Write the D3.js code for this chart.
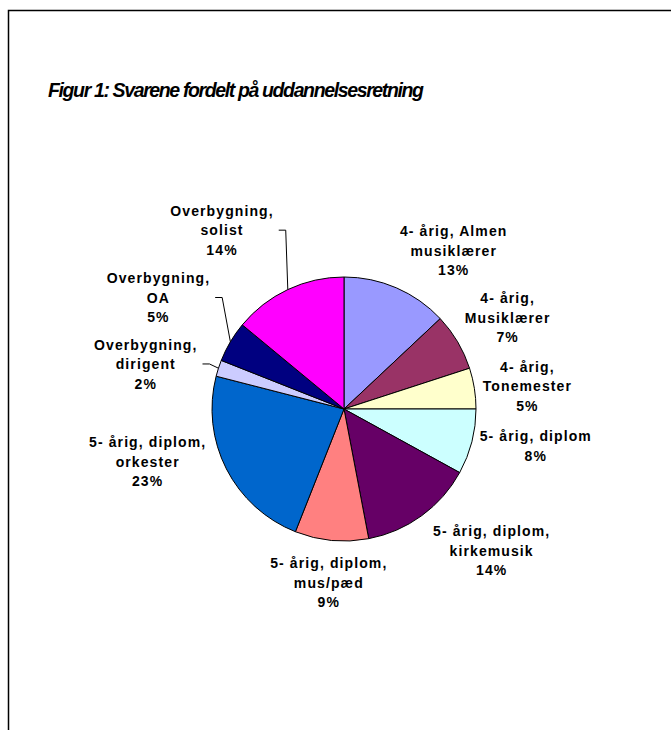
<!DOCTYPE html>
<html>
<head>
<meta charset="utf-8">
<script src="https://cdnjs.cloudflare.com/ajax/libs/d3/7.8.5/d3.min.js"></script>
<style>
    html, body { margin: 0; padding: 0; background: white; }
</style>
</head>
<body>
<script>
const title = "Figur 1: Svarene fordelt på uddannelsesretning";

const categories = [
    ["4-årig, Almen", "musiklærer"],
    ["4-årig,", "Musiklærer"],
    ["4-årig,", "Tonemester"],
    ["5-årig, diplom"],
    ["5-årig, diplom,", "kirkemusik"],
    ["5-årig, diplom,", "mus/pæd"],
    ["5-årig, diplom,", "orkester"],
    ["Overbygning,", "dirigent"],
    ["Overbygning,", "OA"],
    ["Overbygning,", "solist"]
];

const values = [13, 7, 5, 8, 14, 9, 23, 2, 5, 14];

const colors = ["#9999ff", "#993366", "#ffffcc", "#ccffff", "#660066",
                "#ff8080", "#0066cc", "#ccccff", "#000080", "#ff00ff"];

// where excel put each label: shift from slice middle (deg) and distance (x radius)
const labelShift = [11.3, 1.4, 1.9, -3.5, -10.2, -0.4, 12, -5.2, 0.4, -9.1];
const labelDist = [1.46, 1.42, 1.40, 1.48, 1.55, 1.32, 1.54, 1.54, 1.64, 1.64];
const hasLeader = [false, false, false, false, false, false, false, true, true, true];

const width = 671, height = 730;
const cx = 344, cy = 409, radius = 132;
const lineH = 19.5;

const svg = d3.select("body")
    .append("svg")
    .attr("width", width)
    .attr("height", height);

// outer frame (runs off the right and bottom of the picture)
svg.append("rect")
    .attr("x", 8.5)
    .attr("y", 10.5)
    .attr("width", 700)
    .attr("height", 760)
    .attr("fill", "none")
    .attr("stroke", "#000")
    .attr("stroke-width", 1.5);

svg.append("text")
    .attr("x", 48)
    .attr("y", 97)
    .text(title)
    .attr("font-family", "'Liberation Sans', Arial, sans-serif")
    .attr("font-size", "19.5px")
    .attr("font-weight", "bold")
    .attr("font-style", "italic")
    .attr("textLength", 376)
    .attr("lengthAdjust", "spacing")
    .attr("fill", "#000");

const pie = d3.pie().sort(null).value(d => d);
const arcs = pie(values);

const arc = d3.arc().innerRadius(0).outerRadius(radius);

const g = svg.append("g").attr("transform", `translate(${cx},${cy})`);

g.selectAll("path.slice")
    .data(arcs)
    .enter()
    .append("path")
    .attr("class", "slice")
    .attr("d", arc)
    .attr("fill", (d, i) => colors[i])
    .attr("stroke", "#000")
    .attr("stroke-width", 1);

const polar = (a, r) => [Math.sin(a) * r, -Math.cos(a) * r];

const fontFam = "'Liberation Sans', Arial, sans-serif";

arcs.forEach((d, i) => {
    const mid = (d.startAngle + d.endAngle) / 2;
    const a = mid + labelShift[i] * Math.PI / 180;
    const [lx, ly] = polar(a, radius * labelDist[i]);
    const lines = categories[i].concat([values[i] + "%"]);
    const top = ly - (lines.length - 1) * lineH / 2;

    const t = g.append("text")
        .attr("text-anchor", "middle")
        .attr("font-family", fontFam)
        .attr("font-size", "14px")
        .attr("font-weight", "bold")
        .attr("letter-spacing", "1.1px")
        .attr("fill", "#000");

    lines.forEach((s, k) => {
        t.append("tspan")
            .attr("x", lx)
            .attr("y", top + k * lineH)
            .attr("dy", "0.36em")
            .text(s.replace("-årig", "- årig"));
    });

    if (hasLeader[i]) {
        const w = t.node().getBBox().width;
        const sx = lx + w / 2 + 5;
        const sy = top + lineH;
        const [ex, ey] = polar(mid, radius);
        g.append("polyline")
            .attr("points", `${sx},${sy} ${sx + 7},${sy} ${ex},${ey}`)
            .attr("fill", "none")
            .attr("stroke", "#000")
            .attr("stroke-width", 1);
    }
});
</script>
</body>
</html>
